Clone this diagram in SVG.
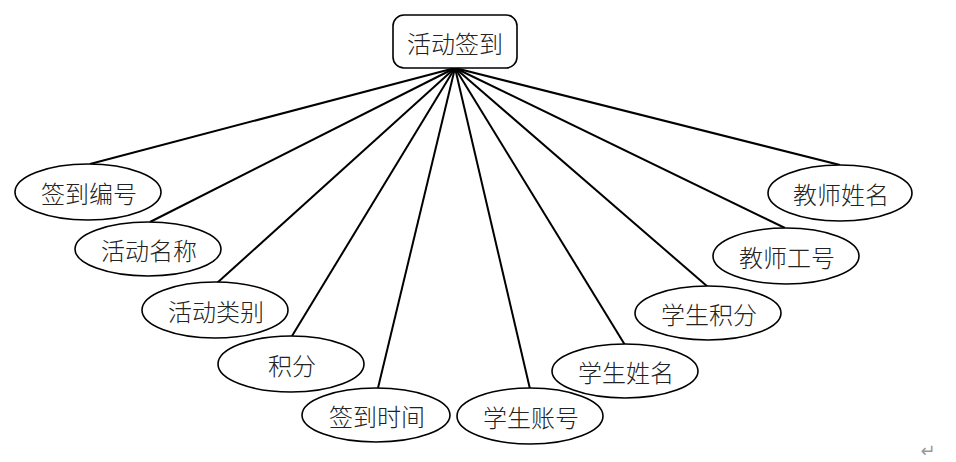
<svg xmlns="http://www.w3.org/2000/svg" width="956" height="462" viewBox="0 0 956 462">
<style>
.n{fill:#fff;stroke:#000;stroke-width:1.6}
.t{font-family:"Noto Sans CJK SC","Noto Sans CJK JP",sans-serif;font-size:24px;font-weight:300;fill:#222;text-anchor:middle;dominant-baseline:central}
.c line{stroke:#000;stroke-width:2}
</style>
<rect width="956" height="462" fill="#fff"/>
<g class="c" id="connectors">
<line x1="455" y1="68" x2="90" y2="164"/>
<line x1="455" y1="68" x2="150" y2="222"/>
<line x1="455" y1="68" x2="217" y2="283"/>
<line x1="455" y1="68" x2="292" y2="336"/>
<line x1="455" y1="68" x2="378" y2="388"/>
<line x1="455" y1="68" x2="530" y2="389"/>
<line x1="455" y1="68" x2="625" y2="345"/>
<line x1="455" y1="68" x2="708" y2="287"/>
<line x1="455" y1="68" x2="785" y2="228"/>
<line x1="455" y1="68" x2="840" y2="165"/>
</g>
<g id="root"><rect class="n" x="393" y="15" width="124" height="53" rx="11"/><text class="t" x="455" y="42">活动签到</text></g>
<g id="n1"><ellipse class="n" cx="88" cy="192" rx="73" ry="28"/><text class="t" x="89" y="192">签到编号</text></g>
<g id="n2"><ellipse class="n" cx="148" cy="249" rx="73" ry="27"/><text class="t" x="149" y="249">活动名称</text></g>
<g id="n3"><ellipse class="n" cx="215" cy="310" rx="73" ry="28"/><text class="t" x="216" y="310">活动类别</text></g>
<g id="n4"><ellipse class="n" cx="291" cy="364" rx="73" ry="28"/><text class="t" x="292" y="364">积分</text></g>
<g id="n5"><ellipse class="n" cx="376" cy="415" rx="74" ry="27"/><text class="t" x="377" y="415">签到时间</text></g>
<g id="n6"><ellipse class="n" cx="530" cy="416" rx="73" ry="28"/><text class="t" x="531" y="416">学生账号</text></g>
<g id="n7"><ellipse class="n" cx="625" cy="371" rx="73" ry="27"/><text class="t" x="626" y="371">学生姓名</text></g>
<g id="n8"><ellipse class="n" cx="708" cy="313" rx="73" ry="27"/><text class="t" x="709" y="313">学生积分</text></g>
<g id="n9"><ellipse class="n" cx="786" cy="256" rx="73" ry="28"/><text class="t" x="787" y="256">教师工号</text></g>
<g id="n10"><ellipse class="n" cx="840" cy="193" rx="72" ry="28"/><text class="t" x="841" y="193">教师姓名</text></g>
<text x="928" y="450" font-family="'DejaVu Sans',sans-serif" font-size="18" fill="#999" text-anchor="middle" dominant-baseline="central">↵</text>
</svg>
